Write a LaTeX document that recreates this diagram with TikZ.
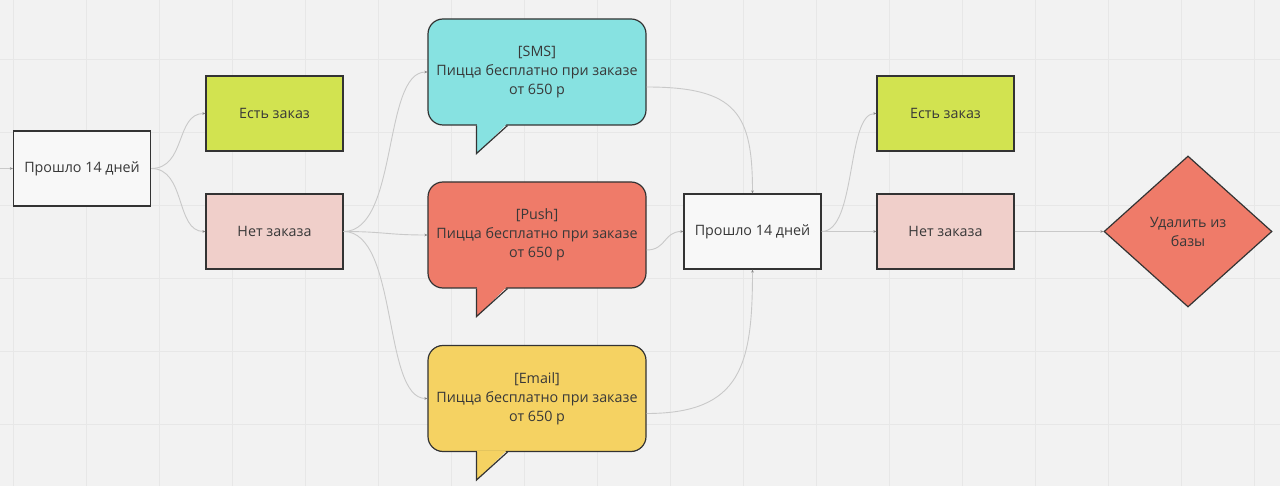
\documentclass[tikz,border=0pt]{standalone}
\usepackage{fontspec}
\setmainfont{Open Sans}
\usetikzlibrary{shapes.geometric,arrows.meta,calc}
\definecolor{bg}{HTML}{F2F2F2}
\definecolor{gridc}{HTML}{E7E7E7}
\definecolor{edge}{HTML}{333333}
\definecolor{txt}{HTML}{383838}
\definecolor{linec}{HTML}{C9C9C9}
\definecolor{tipc}{HTML}{8A8A8A}
\definecolor{cgreen}{HTML}{D2E350}
\definecolor{cpink}{HTML}{F0CFCA}
\definecolor{ccyan}{HTML}{87E2E1}
\definecolor{cred}{HTML}{EF7B69}
\definecolor{cyellow}{HTML}{F5D262}
\definecolor{cwhite}{HTML}{F8F8F8}
\begin{document}
\begin{tikzpicture}[x=1pt,y=-1pt,
  every node/.style={font=\fontsize{14.3}{19}\selectfont, text=txt, align=center},
  box/.style={rectangle, draw=edge, line width=1.3pt, minimum width=137pt, minimum height=75pt, inner sep=0pt},
  bubble/.style={rectangle, rounded corners=15pt, draw=edge, line width=1.2pt, minimum width=218pt, minimum height=106pt, inner sep=0pt},
  conn/.style={draw=linec, line width=0.9pt, -{Stealth[length=3pt,width=2.6pt,color=tipc]}},
  tail/.style={draw=edge, line width=1.2pt, line join=miter}
]
\useasboundingbox (0,0) rectangle (1280,486);
\fill[bg] (0,0) rectangle (1280,486);
% grid
\foreach \gx in {0,...,17} {\draw[gridc, line width=0.9pt] ({13+73*\gx},0) -- ({13+73*\gx},486);}
\foreach \gy in {-1,...,5} {\draw[gridc, line width=0.9pt] (0,{59+73*\gy}) -- (1280,{59+73*\gy});}

% nodes
\node[box, fill=cwhite] (b1) at (82,168.5) {Прошло 14 дней};
\node[box, fill=cgreen] (e1) at (274.5,113.5) {Есть заказ};
\node[box, fill=cpink]  (n1) at (274.5,231.5) {Нет заказа};

\node[bubble, fill=ccyan] (sms) at (537,72) {[SMS]\\Пицца бесплатно при заказе\\от 650 р};
\node[bubble, fill=cred] (push) at (537,235) {[Push]\\Пицца бесплатно при заказе\\от 650 р};
\node[bubble, fill=cyellow] (email) at (537,398.5) {[Email]\\Пицца бесплатно при заказе\\от 650 р};

% tails
\foreach \b/\c in {sms/ccyan, push/cred, email/cyellow} {
  \fill[\c] ($(\b.south west)+(49.6,-1.5)$) -- ($(\b.south west)+(49.6,28)$) -- ($(\b.south west)+(79,-1.5)$) -- cycle;
  \draw[tail] ($(\b.south west)+(49,0)$) -- ($(\b.south west)+(49,28)$) -- ($(\b.south west)+(80,0)$);
}

\node[box, fill=cwhite] (b2) at (752.5,231.5) {Прошло 14 дней};
\node[box, fill=cgreen] (e2) at (945.5,113.5) {Есть заказ};
\node[box, fill=cpink]  (n2) at (945.5,231.5) {Нет заказа};
\node[diamond, draw=edge, line width=1.2pt, fill=cred, minimum width=168pt, minimum height=151pt, aspect=1.11, inner sep=0pt] (dia) at (1188,231.5) {Удалить из\\базы};

\coordinate (start) at (0,168.5);

% connectors
\draw[conn] (start) -- (b1.west);
\draw[conn] (b1.east) .. controls +(35,0) and +(-30,0) .. (e1.west);
\draw[conn] (b1.east) .. controls +(35,0) and +(-30,0) .. (n1.west);
\draw[conn] (n1.east) .. controls +(55,0) and +(-45,0) .. (sms.west);
\draw[conn] (n1.east) .. controls +(40,0) and +(-40,0) .. (push.west);
\draw[conn] (n1.east) .. controls +(55,0) and +(-45,0) .. (email.west);
\draw[conn] ($(sms.east)+(0,15)$) .. controls +(90,0) and +(0,-80) .. (b2.north);
\draw[conn] ($(push.east)+(0,15)$) .. controls +(20,0) and +(-20,0) .. (b2.west);
\draw[conn] ($(email.east)+(0,15)$) .. controls +(95,0) and +(0,95) .. (b2.south);
\draw[conn] (b2.east) .. controls +(35,0) and +(-30,0) .. (e2.west);
\draw[conn] (b2.east) -- (n2.west);
\draw[conn] (n2.east) -- (dia.west);
\end{tikzpicture}
\end{document}
